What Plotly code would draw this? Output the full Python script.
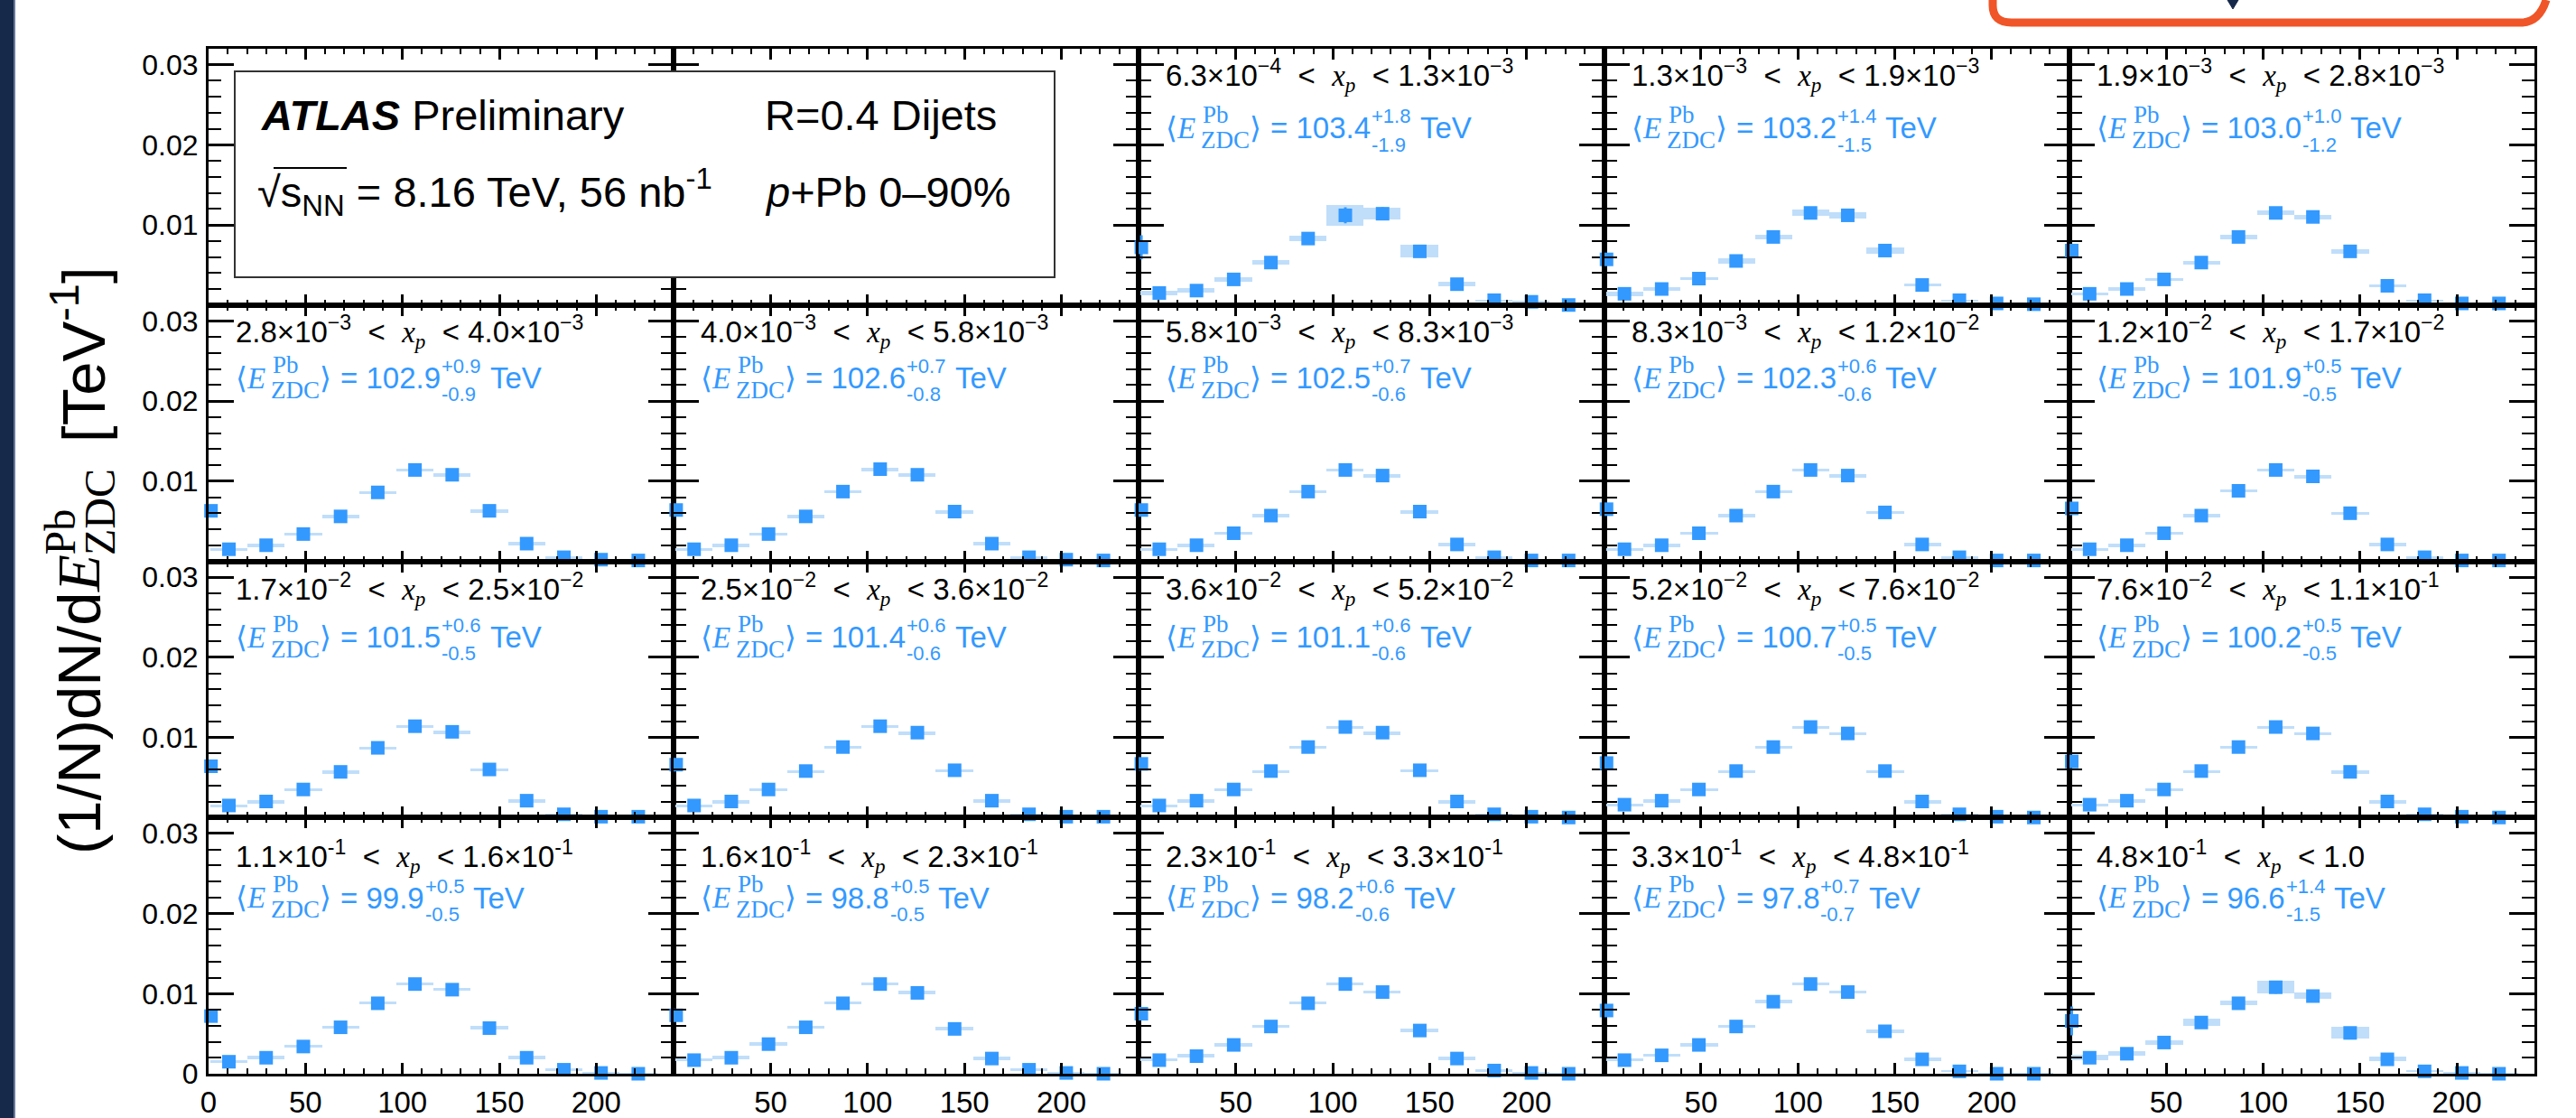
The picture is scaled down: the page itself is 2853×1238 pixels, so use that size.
import plotly.graph_objects as go
from plotly.subplots import make_subplots

# ---------------- data ----------------
E_centers = [1.25, 10.5, 29.7, 48.9, 68.1, 87.3, 106.5, 125.7, 144.9, 164.1, 183.3, 202.5, 221.7]
E_widths = [0.0, 19.2, 19.2, 19.2, 19.2, 19.2, 19.2, 19.2, 19.2, 19.2, 19.2, 19.2, 19.2]

xp_mant = ["6.3", "1.3", "1.9", "2.8", "4.0", "5.8", "8.3", "1.2", "1.7", "2.5",
           "3.6", "5.2", "7.6", "1.1", "1.6", "2.3", "3.3", "4.8", "1.0"]
xp_exp = ["−4", "−3", "−3", "−3", "−3", "−3", "−3", "−2", "−2", "−2",
          "−2", "−2", "−2", "-1", "-1", "-1", "-1", "-1", ""]

mean_E = ["103.4", "103.2", "103.0", "102.9", "102.6", "102.5", "102.3", "101.9", "101.5",
          "101.4", "101.1", "100.7", "100.2", "99.9", "98.8", "98.2", "97.8", "96.6"]
err_up = ["1.8", "1.4", "1.0", "0.9", "0.7", "0.7", "0.6", "0.5", "0.6",
          "0.6", "0.6", "0.5", "0.5", "0.5", "0.5", "0.6", "0.7", "1.4"]
err_dn = ["1.9", "1.5", "1.2", "0.9", "0.8", "0.6", "0.6", "0.5", "0.5",
          "0.6", "0.6", "0.5", "0.5", "0.5", "0.5", "0.6", "0.7", "1.5"]

p01 = [0.0072, 0.0015, 0.0018, 0.0032, 0.0053, 0.0083, 0.0112, 0.0114, 0.0067, 0.0026, 0.0006, 0.0004, 0.0000]
p02 = [0.0057, 0.0014, 0.0020, 0.0033, 0.0055, 0.0085, 0.0115, 0.0112, 0.0068, 0.0025, 0.0006, 0.0002, 0.0001]
p03 = [0.0068, 0.0014, 0.0020, 0.0032, 0.0053, 0.0085, 0.0115, 0.0110, 0.0067, 0.0024, 0.0006, 0.0002, 0.0002]
p04 = [0.0063, 0.0015, 0.0020, 0.0034, 0.0056, 0.0086, 0.0114, 0.0108, 0.0063, 0.0022, 0.0005, 0.0002, 0.0001]
p05 = [0.0064, 0.0015, 0.0020, 0.0034, 0.0056, 0.0087, 0.0115, 0.0108, 0.0062, 0.0022, 0.0005, 0.0002, 0.0001]
p06 = [0.0064, 0.0015, 0.0020, 0.0035, 0.0057, 0.0087, 0.0114, 0.0107, 0.0062, 0.0021, 0.0005, 0.0001, 0.0001]
p07 = [0.0065, 0.0015, 0.0020, 0.0035, 0.0057, 0.0087, 0.0114, 0.0107, 0.0061, 0.0021, 0.0005, 0.0001, 0.0001]
p08 = [0.0066, 0.0015, 0.0020, 0.0035, 0.0057, 0.0088, 0.0114, 0.0106, 0.0060, 0.0021, 0.0005, 0.0001, 0.0001]
p09 = [0.0064, 0.0015, 0.0020, 0.0035, 0.0057, 0.0087, 0.0114, 0.0107, 0.0060, 0.0021, 0.0004, 0.0001, 0.0001]
p10 = [0.0066, 0.0015, 0.0020, 0.0035, 0.0058, 0.0088, 0.0114, 0.0106, 0.0059, 0.0021, 0.0004, 0.0001, 0.0001]
p11 = [0.0067, 0.0015, 0.0021, 0.0035, 0.0058, 0.0088, 0.0113, 0.0106, 0.0059, 0.0020, 0.0004, 0.0001, 0.0000]
p12 = [0.0068, 0.0016, 0.0021, 0.0035, 0.0058, 0.0088, 0.0113, 0.0105, 0.0058, 0.0020, 0.0004, 0.0001, 0.0000]
p13 = [0.0070, 0.0016, 0.0021, 0.0035, 0.0058, 0.0088, 0.0113, 0.0105, 0.0057, 0.0020, 0.0004, 0.0001, 0.0000]
p14 = [0.0072, 0.0015, 0.0020, 0.0034, 0.0058, 0.0088, 0.0112, 0.0105, 0.0057, 0.0020, 0.0005, 0.0001, 0.0000]
p15 = [0.0073, 0.0017, 0.0020, 0.0037, 0.0058, 0.0088, 0.0112, 0.0101, 0.0056, 0.0019, 0.0005, 0.0001, 0.0000]
p16 = [0.0075, 0.0017, 0.0022, 0.0036, 0.0059, 0.0088, 0.0112, 0.0102, 0.0054, 0.0019, 0.0004, 0.0001, 0.0000]
p17 = [0.0079, 0.0017, 0.0023, 0.0036, 0.0059, 0.0090, 0.0112, 0.0102, 0.0053, 0.0018, 0.0003, 0.0000, 0.0000]
p18 = [0.0066, 0.0020, 0.0025, 0.0039, 0.0064, 0.0088, 0.0108, 0.0097, 0.0051, 0.0018, 0.0003, 0.0001, 0.0000]

s01 = [0, 0.0003, 0.0003, 0.0003, 0.0003, 0.0003, 0.0013, 0.0007, 0.0008, 0.0003, 0.0001, 0.0001, 0.0001]
s02 = [0, 0.0003, 0.0002, 0.0002, 0.0003, 0.0003, 0.0004, 0.0004, 0.0004, 0.0002, 0.0001, 0.0001, 0.0001]
s03 = [0, 0.0002, 0.0002, 0.0002, 0.0002, 0.0003, 0.0003, 0.0003, 0.0003, 0.0002, 0.0001, 0.0001, 0.0001]
s_mid = [0, 0.0002, 0.0002, 0.0002, 0.0002, 0.0002, 0.0002, 0.0002, 0.0002, 0.0002, 0.0001, 0.0001, 0.0001]
s18 = [0, 0.0003, 0.0003, 0.0003, 0.0004, 0.0003, 0.0008, 0.0004, 0.0007, 0.0003, 0.0001, 0.0001, 0.0001]

st01 = [0.0015, 0.0003, 0.0003, 0.0003, 0.0003, 0.0004, 0.0010, 0.0008, 0.0004, 0.0002, 0.0001, 0.0001, 0.0001]
st_mid = [0.0004, 0.0001, 0.0001, 0.0001, 0.0001, 0.0002, 0.0002, 0.0002, 0.0001, 0.0001, 0.0001, 0.0001, 0.0001]
st18 = [0.0018, 0.0003, 0.0003, 0.0003, 0.0003, 0.0004, 0.0008, 0.0007, 0.0004, 0.0002, 0.0001, 0.0001, 0.0001]

panel_vals = [p01, p02, p03, p04, p05, p06, p07, p08, p09, p10, p11, p12, p13, p14, p15, p16, p17, p18]
panel_syst = [s01, s02, s03] + [s_mid] * 14 + [s18]
panel_stat = [st01] + [st_mid] * 16 + [st18]

x_ticks = [0, 50, 100, 150, 200]
y_ticks = [0, 0.01, 0.02, 0.03]

# ---------------- geometry ----------------
W, H = 2853, 1238
ML, MR, MT, MB = 231, 46, 54, 49
PW = W - ML - MR
PH = H - MT - MB
NR, NC = 4, 5
CW = PW / NC
RH = PH / NR


def px(x):
    return (x - ML) / PW


def py(y):
    return 1 - (y - MT) / PH


BLUE = "#3399ff"
BOX = "rgb(192,222,250)"
SANS = "Liberation Sans, Arial, Helvetica, sans-serif"
SERIF = "Liberation Serif, Times New Roman, serif"

fig = make_subplots(rows=NR, cols=NC, horizontal_spacing=0, vertical_spacing=0)

# empty panels (legend area) still need their frames
for c in (1, 2):
    fig.add_trace(go.Scatter(x=[None], y=[None], mode="markers", showlegend=False,
                             hoverinfo="skip"), row=1, col=c)

for k in range(18):
    pos = k + 2
    r, c = pos // NC + 1, pos % NC + 1
    vals = panel_vals[k]
    syst = panel_syst[k]
    fig.add_trace(go.Bar(x=E_centers, y=[2 * s for s in syst],
                         base=[v - s for v, s in zip(vals, syst)],
                         width=E_widths, marker=dict(color=BOX, line=dict(width=0)),
                         showlegend=False, hoverinfo="skip"), row=r, col=c)
    fig.add_trace(go.Scatter(x=E_centers, y=vals, mode="markers",
                             marker=dict(symbol="square", size=15, color=BLUE),
                             error_y=dict(type="data", array=panel_stat[k], color=BLUE,
                                          thickness=3, width=0),
                             cliponaxis=False, showlegend=False), row=r, col=c)

# axes
for r in range(1, NR + 1):
    for c in range(1, NC + 1):
        i = (r - 1) * NC + c
        xs = "xaxis" if i == 1 else f"xaxis{i}"
        ys = "yaxis" if i == 1 else f"yaxis{i}"
        xv = x_ticks if c == 1 else x_ticks[1:]
        yv = y_ticks if r == NR else y_ticks[1:]
        fig.layout[xs].update(
            range=[0, 240], showline=True, linecolor="black", linewidth=3, mirror="allticks",
            ticks="inside", tickvals=xv, ticktext=[str(v) for v in xv], ticklen=12, tickwidth=2.5,
            tickcolor="black", showgrid=False, zeroline=False, ticklabelstandoff=0,
            automargin=False,
            showticklabels=(r == NR), tickfont=dict(family=SANS, size=33, color="black"),
            minor=dict(tickmode="linear", tick0=0, dtick=10, ticks="inside", ticklen=6,
                       tickwidth=2, tickcolor="black", showgrid=False),
            fixedrange=True)
        fig.layout[ys].update(
            range=[0, 0.032], showline=True, linecolor="black", linewidth=3, mirror="allticks",
            ticks="inside", tickvals=yv, ticktext=[("%g" % v) for v in yv], ticklen=28, tickwidth=2.5,
            tickcolor="black", showgrid=False, zeroline=False, automargin=False,
            ticklabelstandoff=2,
            showticklabels=(c == 1), tickfont=dict(family=SANS, size=32, color="black"),
            minor=dict(tickmode="linear", tick0=0, dtick=0.002, ticks="inside", ticklen=14,
                       tickwidth=2, tickcolor="black", showgrid=False),
            fixedrange=True)

annotations = []
shapes = []


def ann(text, x, y, size, family=SANS, color="black", xanchor="left", yanchor="middle", angle=0):
    annotations.append(dict(text=text, x=px(x), y=py(y), xref="paper", yref="paper",
                            xanchor=xanchor, yanchor=yanchor, showarrow=False, borderpad=0,
                            textangle=angle, font=dict(family=family, size=size, color=color)))


HWID = {"0": .556, "1": .556, "2": .556, "3": .556, "4": .556, "5": .556, "6": .556,
        "7": .556, "8": .556, "9": .556, ".": .278, "+": .584, "-": .333, " ": .278}


def twidth(s, size):
    return sum(HWID.get(ch, .556) for ch in s) * size


black_dy = [30, 30, 31, 43]
blue_dy = [88, 81, 84, 89]

for k in range(18):
    pos = k + 2
    r, c = pos // NC, pos % NC
    left = ML + c * CW
    top = MT + r * RH
    lo = xp_mant[k] + "×10<sup>" + xp_exp[k] + "</sup>"
    hi = xp_mant[k + 1] + ("×10<sup>" + xp_exp[k + 1] + "</sup>" if xp_exp[k + 1] else "")
    xp = "<span style='font-family:Liberation Serif'><i>x</i><sub><i>p</i></sub></span>"
    ann(lo + "  <  " + xp + "  < " + hi, left + 29, top + black_dy[r], 33)
    cy = top + blue_dy[r]
    ann("⟨<i>E</i>", left + 29, cy, 33, family=SERIF, color=BLUE)
    ann("Pb", left + 70, cy - 15, 27, family=SERIF, color=BLUE)
    ann("ZDC", left + 68, cy + 13, 27, family=SERIF, color=BLUE)
    ann("⟩", left + 122, cy, 33, family=SERIF, color=BLUE)
    ann("= " + mean_E[k], left + 145, cy, 33, color=BLUE)
    xs = left + 146 + twidth("= " + mean_E[k], 33) + 1
    ann("+" + err_up[k], xs, cy - 13, 22, color=BLUE)
    ann("-" + err_dn[k], xs, cy + 18, 22, color=BLUE)
    sw = max(twidth("+" + err_up[k], 22), twidth("-" + err_dn[k], 22))
    ann("TeV", xs + sw + 10, cy, 33, color=BLUE)

# legend box
shapes.append(dict(type="rect", xref="paper", yref="paper", x0=px(260), x1=px(1168),
                   y0=py(307), y1=py(79), fillcolor="white", line=dict(color="#333333", width=2),
                   layer="above"))
ann("<b><i>ATLAS</i></b> Preliminary", 288, 128, 47)
ann("√s<sub>NN</sub> = 8.16 TeV, 56 nb<sup>-1</sup>", 284, 212, 47)
shapes.append(dict(type="line", xref="paper", yref="paper", x0=px(303), x1=px(384),
                   y0=py(186), y1=py(186), line=dict(color="black", width=2), layer="above"))
ann("R=0.4 Dijets", 846, 128, 47)
ann("<i>p</i>+Pb 0–90%", 846, 212, 47)

# y-axis title (rotated, built from pieces)
ann("(1/N)dN/d", 87, 947, 67, xanchor="center", yanchor="bottom", angle=-90)
ann("<i>E</i>", 87, 657, 67, family=SERIF, xanchor="center", yanchor="bottom", angle=-90)
ann("Pb", 66, 616, 48, family=SERIF, xanchor="center", yanchor="bottom", angle=-90)
ann("ZDC", 110, 616, 48, family=SERIF, xanchor="center", yanchor="bottom", angle=-90)
ann(" [TeV<sup>-1</sup>]", 87, 510, 67, xanchor="center", yanchor="bottom", angle=-90)

# decorations outside plot
shapes.append(dict(type="rect", xref="paper", yref="paper", x0=px(0), x1=px(15), y0=py(H), y1=py(0),
                   fillcolor="#17294a", line=dict(width=0), layer="above"))
shapes.append(dict(type="rect", xref="paper", yref="paper", x0=px(15), x1=px(17), y0=py(H), y1=py(0),
                   fillcolor="#6a7a98", line=dict(width=0), layer="above"))


def ppath(pts):
    out = ""
    for cmd, coords in pts:
        out += cmd + " " + " ".join(f"{px(coords[i]):.5f},{py(coords[i + 1]):.5f}"
                                    for i in range(0, len(coords), 2)) + " "
    return out.strip()


shapes.append(dict(type="path", xref="paper", yref="paper",
                   path=ppath([("M", (2207, 0)), ("L", (2207, 6)), ("Q", (2207, 25, 2228, 25)),
                               ("L", (2792, 25)), ("Q", (2812, 25, 2820, 0))]),
                   line=dict(color="#ef5528", width=9), layer="above"))
shapes.append(dict(type="path", xref="paper", yref="paper",
                   path=ppath([("M", (2467, 0)), ("L", (2479, 0)), ("L", (2473, 10))]) + " Z",
                   fillcolor="#17294a", line=dict(color="#17294a", width=1), layer="above"))

fig.update_layout(width=W, height=H, autosize=False,
                  margin=dict(l=ML, r=MR, t=MT, b=MB, pad=0, autoexpand=False),
                  plot_bgcolor="white", paper_bgcolor="white",
                  barmode="overlay", bargap=0, showlegend=False,
                  annotations=annotations, shapes=shapes,
                  font=dict(family=SANS, color="black"))

fig.write_html("out.html", config={"displayModeBar": False},
               post_script="document.body.style.margin='0';document.body.style.overflow='hidden';")
